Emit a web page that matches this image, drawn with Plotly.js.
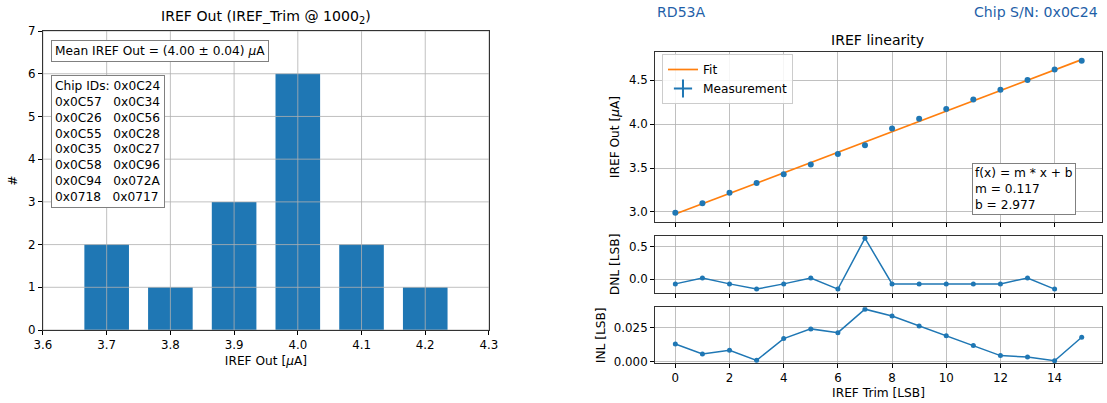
<!DOCTYPE html>
<html>
<head>
<meta charset="utf-8">
<script src="https://cdn.plot.ly/plotly-3.0.1.min.js"></script>
<style>html,body{margin:0;padding:0;background:#fff;}#chart{width:1107px;height:403px;}</style>
</head>
<body>
<div id="chart"></div>
<script>
// ---------- data ----------
const histBins = [3.7, 3.8, 3.9, 4.0, 4.1, 4.2];
const histCounts = [2, 1, 3, 6, 2, 1];
const histXTicks = [3.6, 3.7, 3.8, 3.9, 4.0, 4.1, 4.2, 4.3];
const histXTickLabels = ['3.6', '3.7', '3.8', '3.9', '4.0', '4.1', '4.2', '4.3'];
const histYTicks = [0, 1, 2, 3, 4, 5, 6, 7];
const chipIds = ['0x0C24', '0x0C57', '0x0C34', '0x0C26', '0x0C56', '0x0C55', '0x0C28',
                 '0x0C35', '0x0C27', '0x0C58', '0x0C96', '0x0C94', '0x072A', '0x0718', '0x0717'];
const meanText = 'Mean IREF Out = (4.00 ± 0.04) <i>μ</i>A';

const trimCodes = [0, 1, 2, 3, 4, 5, 6, 7, 8, 9, 10, 11, 12, 13, 14, 15];
const irefOut = [2.99, 3.10, 3.22, 3.33, 3.43, 3.54, 3.66, 3.76, 3.95, 4.06, 4.17, 4.28, 4.39, 4.50, 4.62, 4.72];
const fitM = 0.117;
const fitB = 2.977;
const fitX = [0, 15];
const dnlCodes = [0, 1, 2, 3, 4, 5, 6, 7, 8, 9, 10, 11, 12, 13, 14];
const dnl = [-0.07, 0.02, -0.07, -0.15, -0.07, 0.02, -0.15, 0.63, -0.07, -0.07, -0.07, -0.07, -0.07, 0.02, -0.15];
const inl = [0.0131, 0.0057, 0.0084, 0.0010, 0.0171, 0.0243, 0.0215, 0.0389, 0.0339, 0.0265, 0.0193, 0.0119, 0.0045, 0.0035, 0.0007, 0.0181];
const trimTicks = [0, 2, 4, 6, 8, 10, 12, 14];

// ---------- style ----------
const FONT = 'DejaVu Sans, sans-serif';
const BLUE = '#1f77b4';
const ORANGE = '#ff7f0e';
const GRID = '#b0b0b0';
const SPINE = '#333';
const TICK_FS = 11.8;
const TXT_FS = 12.2;
const TITLE_FS = 14.1;

const chipText = 'Chip IDs: ' + chipIds[0] + '<br>' +
  chipIds.slice(1).reduce((acc, id, i, arr) => {
    if (i % 2 === 0) acc.push(id + '\u00a0\u00a0\u00a0' + (arr[i + 1] || ''));
    return acc;
  }, []).join('<br>');

const fitY = fitX.map(x => fitM * x + fitB);

const traces = [
  {type: 'bar', x: histBins, y: histCounts, width: 0.07, marker: {color: BLUE},
   xaxis: 'x', yaxis: 'y', showlegend: false, hoverinfo: 'skip'},
  {type: 'scatter', mode: 'lines', x: fitX, y: fitY, name: 'Fit',
   line: {color: ORANGE, width: 1.7}, xaxis: 'x2', yaxis: 'y2'},
  {type: 'scatter', mode: 'markers', x: trimCodes, y: irefOut, name: 'Measurement',
   marker: {color: BLUE, size: 6}, showlegend: false, xaxis: 'x2', yaxis: 'y2'},
  // legend entry for the measurement (errorbar-style "+" symbol)
  {type: 'scatter', mode: 'markers', x: [null], y: [null], name: 'Measurement',
   marker: {color: BLUE, size: 13, symbol: 'cross-thin', line: {color: BLUE, width: 2}},
   xaxis: 'x2', yaxis: 'y2'},
  {type: 'scatter', mode: 'lines+markers', x: dnlCodes, y: dnl, showlegend: false,
   line: {color: BLUE, width: 1.5}, marker: {color: BLUE, size: 5}, xaxis: 'x3', yaxis: 'y3'},
  {type: 'scatter', mode: 'lines+markers', x: trimCodes, y: inl, showlegend: false,
   line: {color: BLUE, width: 1.5}, marker: {color: BLUE, size: 5}, xaxis: 'x4', yaxis: 'y4'}
];

const axBase = {
  showline: true, linecolor: SPINE, linewidth: 1, mirror: true,
  ticks: 'outside', ticklen: 4, tickcolor: '#000', tickwidth: 1,
  gridcolor: GRID, gridwidth: 0.8, zeroline: false,
  tickfont: {family: FONT, size: TICK_FS, color: '#000'}
};
function ax(extra) { return Object.assign({}, axBase, extra); }
const tFont = {family: FONT, size: TXT_FS, color: '#000'};

const R = [0.5917, 0.9955];

// histogram grid drawn above the bars (as in the reference)
const gridShapes = [];
histXTicks.forEach(v => gridShapes.push({type: 'line', xref: 'x', yref: 'y domain', x0: v, x1: v, y0: 0, y1: 1,
  line: {color: GRID, width: 0.8}, layer: 'above'}));
histYTicks.forEach(v => gridShapes.push({type: 'line', xref: 'x domain', yref: 'y', x0: 0, x1: 1, y0: v, y1: v,
  line: {color: GRID, width: 0.8}, layer: 'above'}));

const layout = {
  width: 1107, height: 403,
  margin: {l: 0, r: 0, t: 0, b: 0},
  paper_bgcolor: '#fff', plot_bgcolor: '#fff',
  font: {family: FONT, size: TXT_FS, color: '#000'},
  showlegend: true,
  legend: {x: 0.598, y: (403 - 54) / 403, xanchor: 'left', yanchor: 'top', bgcolor: 'rgba(255,255,255,0.85)',
           bordercolor: '#cccccc', borderwidth: 1, font: tFont,
           tracegroupgap: 0, itemwidth: 30},
  xaxis: ax({domain: [0.0388, 0.4417], range: [3.6, 4.3], tickvals: histXTicks, ticktext: histXTickLabels,
             showgrid: false, anchor: 'y',
             title: {text: 'IREF Out [<i>μ</i>A]', font: tFont, standoff: 5}}),
  yaxis: ax({domain: [0.1811, 0.923], range: [0, 7], tickvals: histYTicks, showgrid: false, anchor: 'x',
             title: {text: '#', font: tFont, standoff: 7}}),
  xaxis2: ax({domain: R, range: [-0.75, 15.75], tickvals: trimTicks, showticklabels: false, anchor: 'y2'}),
  yaxis2: ax({domain: [0.4491, 0.871], range: [2.886, 4.819], tickvals: [3.0, 3.5, 4.0, 4.5],
              ticktext: ['3.0', '3.5', '4.0', '4.5'], anchor: 'x2',
              title: {text: 'IREF Out [<i>μ</i>A]', font: tFont, standoff: 6}}),
  xaxis3: ax({domain: R, range: [-0.75, 15.75], tickvals: trimTicks, showticklabels: false, anchor: 'y3', matches: 'x2'}),
  yaxis3: ax({domain: [0.2737, 0.4144], range: [-0.205, 0.664], tickvals: [0.0, 0.5], ticktext: ['0.0', '0.5'],
              anchor: 'x3', title: {text: 'DNL [LSB]', font: tFont, standoff: 6}}),
  xaxis4: ax({domain: R, range: [-0.75, 15.75], tickvals: trimTicks, anchor: 'y4', matches: 'x2',
              title: {text: 'IREF Trim [LSB]', font: tFont, standoff: 3}}),
  yaxis4: ax({domain: [0.0985, 0.2375], range: [-0.0012, 0.0403], tickvals: [0.0, 0.025], ticktext: ['0.000', '0.025'],
              anchor: 'x4', title: {text: 'INL [LSB]', font: tFont, standoff: 5}}),
  shapes: gridShapes,
  annotations: [
    {text: 'IREF Out (IREF_Trim @ 1000<sub>2</sub>)', xref: 'paper', yref: 'paper', x: 266 / 1107, y: (403 - 17) / 403,
     xanchor: 'center', yanchor: 'middle', showarrow: false, font: {family: FONT, size: TITLE_FS}},
    {text: 'IREF linearity', xref: 'paper', yref: 'paper', x: 878 / 1107, y: (403 - 40) / 403,
     xanchor: 'center', yanchor: 'middle', showarrow: false, font: {family: FONT, size: TITLE_FS}},
    {text: 'RD53A', xref: 'paper', yref: 'paper', x: 655 / 1107, y: (403 - 12) / 403,
     xanchor: 'left', yanchor: 'middle', showarrow: false, font: {family: FONT, size: TITLE_FS, color: '#1f5fa8'}},
    {text: 'Chip S/N: 0x0C24', xref: 'paper', yref: 'paper', x: 1100 / 1107, y: (403 - 12) / 403,
     xanchor: 'right', yanchor: 'middle', showarrow: false, font: {family: FONT, size: TITLE_FS, color: '#1f5fa8'}},
    {text: meanText, xref: 'paper', yref: 'paper', x: 51 / 1107, y: (403 - 40) / 403,
     xanchor: 'left', yanchor: 'top', showarrow: false, align: 'left',
     bgcolor: '#fff', bordercolor: '#808080', borderwidth: 1, borderpad: 3, font: tFont},
    {text: chipText, xref: 'paper', yref: 'paper', x: 51 / 1107, y: (403 - 75) / 403,
     xanchor: 'left', yanchor: 'top', showarrow: false, align: 'left',
     bgcolor: '#fff', bordercolor: '#808080', borderwidth: 1, borderpad: 3, font: tFont},
    {text: 'f(x) = m * x + b<br>m = ' + fitM.toFixed(3) + '<br>b = ' + fitB.toFixed(3),
     xref: 'paper', yref: 'paper', x: 972 / 1107, y: (403 - 163) / 403,
     xanchor: 'left', yanchor: 'top', showarrow: false, align: 'left',
     bgcolor: '#fff', bordercolor: '#808080', borderwidth: 1, borderpad: 2, font: tFont}
  ]
};

Plotly.newPlot('chart', traces, layout, {staticPlot: true, displayModeBar: false});
</script>
</body>
</html>
